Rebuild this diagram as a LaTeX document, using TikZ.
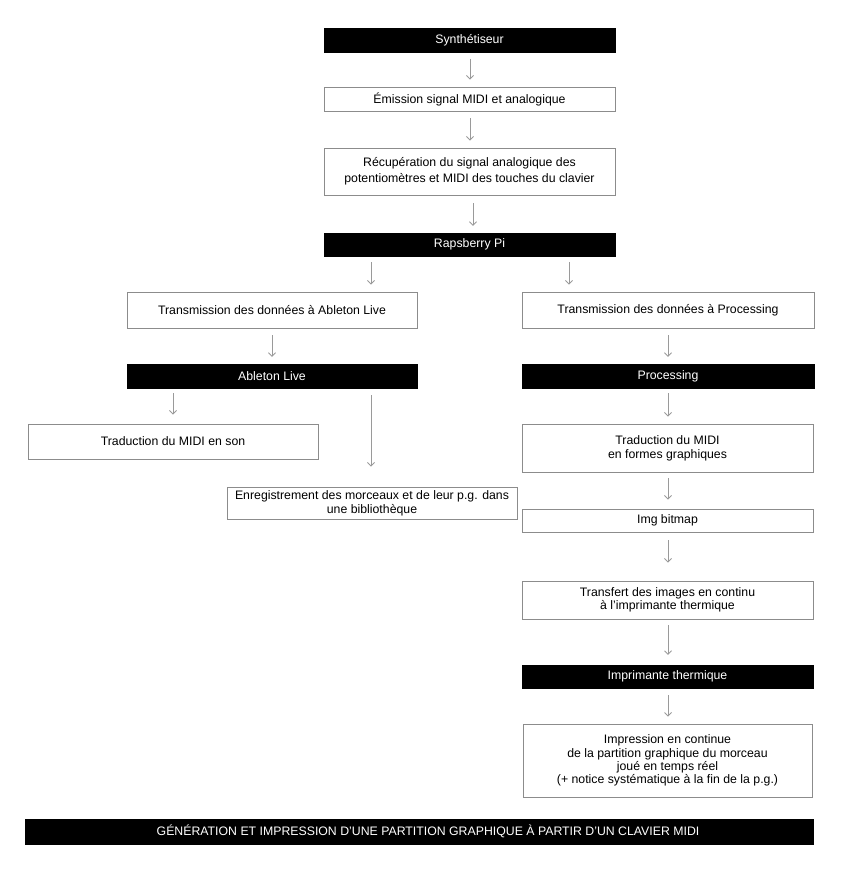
\documentclass[tikz,border=0pt]{standalone}
\usepackage{fontspec}
\setmainfont{Liberation Sans}
\usetikzlibrary{arrows.meta}
\definecolor{boxline}{HTML}{8C8C8C}
\definecolor{arrline}{HTML}{9A9A9A}
\tikzset{
  wbox/.style={draw=boxline, line width=0.9pt, fill=white, inner sep=0pt, align=center, text=black},
  bbox/.style={draw=black, fill=black, inner sep=0pt, align=center, text=white},
  arr/.style={draw=arrline, line width=0.8pt, -{Straight Barb[length=3.5pt,width=7pt]}},
  txt/.style={font=\fontsize{12.3}{#1}\selectfont},
}
\begin{document}
\begin{tikzpicture}[x=1pt,y=-1pt]
\useasboundingbox (0,0) rectangle (842,873);
% top column
\node[bbox, txt=14, minimum width=291pt, minimum height=24pt] (syn) at (469.5,40.5) {Synthétiseur};
\node[wbox, txt=14, minimum width=291pt, minimum height=24pt] (emi) at (469.5,99) {Émission signal MIDI et analogique};
\node[wbox, txt=16, minimum width=291pt, minimum height=47pt] (rec) at (469.5,171.5) {Récupération du signal analogique des\\potentiomètres et MIDI des touches du clavier};
\node[bbox, txt=14, minimum width=291pt, minimum height=23pt] (rasp) at (469.5,244.5) {Rapsberry Pi};
% left branch
\node[wbox, txt=14, minimum width=290pt, minimum height=36pt] (transA) at (272,310) {Transmission des données à Ableton Live};
\node[bbox, txt=14, minimum width=290pt, minimum height=24pt] (able) at (272,376) {Ableton Live};
\node[wbox, txt=14, minimum width=290pt, minimum height=35pt] (tson) at (173,441.5) {Traduction du MIDI en son};
\node[wbox, txt=14.3, minimum width=290pt, minimum height=32pt] (enreg) at (372,503) {Enregistrement des morceaux et de leur p.g. dans\\une bibliothèque};
% right branch
\node[wbox, txt=14, minimum width=292pt, minimum height=36pt] (transP) at (668,310) {Transmission des données à Processing};
\node[bbox, txt=14, minimum width=292pt, minimum height=24pt] (proc) at (668,376) {Processing};
\node[wbox, txt=14.3, minimum width=291pt, minimum height=48pt] (tform) at (667.5,448) {Traduction du MIDI\\en formes graphiques};
\node[wbox, txt=14, minimum width=291pt, minimum height=23pt] (img) at (667.5,520.5) {Img bitmap};
\node[wbox, txt=13.3, minimum width=291pt, minimum height=38pt] (transf) at (667.5,600) {Transfert des images en continu\\à l'imprimante thermique};
\node[bbox, txt=14, minimum width=291pt, minimum height=23pt] (impr) at (667.5,676.5) {Imprimante thermique};
\node[wbox, txt=13.2, minimum width=289pt, minimum height=73pt] (imps) at (667.5,760.5) {Impression en continue\\de la partition graphique du morceau\\joué en temps réel\\(+ notice systématique à la fin de la p.g.)};
% bottom title bar
\node[bbox, txt=14, minimum width=788pt, minimum height=25pt] (title) at (419,831.5) {\hspace*{18pt}GÉNÉRATION ET IMPRESSION D’UNE PARTITION GRAPHIQUE À PARTIR D’UN CLAVIER MIDI};
% arrow columns
\coordinate (c470) at (470,0);
\coordinate (c473) at (473,0);
\coordinate (c371) at (371,0);
\coordinate (c569) at (569,0);
\coordinate (c272) at (272,0);
\coordinate (c668) at (668,0);
\coordinate (c173) at (173,0);
% arrows
\draw[arr, shorten <=6pt, shorten >=7pt] (syn.south -| c470) -- (emi.north -| c470);
\draw[arr, shorten <=7pt, shorten >=7pt] (emi.south -| c470) -- (rec.north -| c470);
\draw[arr, shorten <=8pt, shorten >=7pt] (rec.south -| c473) -- (rasp.north -| c473);
\draw[arr, shorten <=6pt, shorten >=7pt] (rasp.south -| c371) -- (transA.north -| c371);
\draw[arr, shorten <=6pt, shorten >=7pt] (rasp.south -| c569) -- (transP.north -| c569);
\draw[arr, shorten <=7pt, shorten >=7pt] (transA.south -| c272) -- (able.north -| c272);
\draw[arr, shorten <=7pt, shorten >=7pt] (transP.south -| c668) -- (proc.north -| c668);
\draw[arr, shorten <=5pt, shorten >=9pt] (able.south -| c173) -- (tson.north -| c173);
\draw[arr, shorten <=7pt, shorten >=20pt] (able.south -| c371) -- (enreg.north -| c371);
\draw[arr, shorten <=5pt, shorten >=7pt] (proc.south -| c668) -- (tform.north -| c668);
\draw[arr, shorten <=6pt, shorten >=9pt] (tform.south -| c668) -- (img.north -| c668);
\draw[arr, shorten <=8pt, shorten >=18pt] (img.south -| c668) -- (transf.north -| c668);
\draw[arr, shorten <=6pt, shorten >=10pt] (transf.south -| c668) -- (impr.north -| c668);
\draw[arr, shorten <=7pt, shorten >=7pt] (impr.south -| c668) -- (imps.north -| c668);
\end{tikzpicture}
\end{document}
